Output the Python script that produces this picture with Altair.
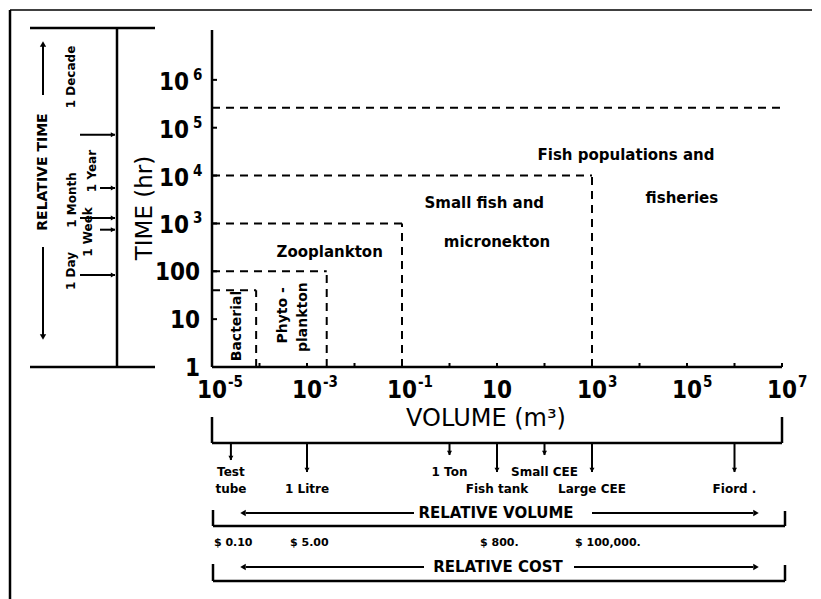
import altair as alt
import pandas as pd

# ---------------- data ----------------
x_tick_values = [1e-5, 1e-3, 1e-1, 1e1, 1e3, 1e5, 1e7]
x_tick_base = ["10", "10", "10", "10", "10", "10", "10"]
x_tick_exp = ["-5", "-3", "-1", "", "3", "5", "7"]
y_tick_values = [1, 10, 100, 1e3, 1e4, 1e5, 1e6]
y_tick_base = ["1", "10", "100", "10", "10", "10", "10"]
y_tick_exp = ["", "", "", "3", "4", "5", "6"]
x_minor_ticks = [1e-4, 1e-3, 1e-2, 1e-1, 1, 10, 100, 1e3, 1e4, 1e5, 1e6, 1e7]
y_minor_ticks = [10, 100, 1e3, 1e4, 1e5, 1e6]

region_names = ["Bacterial", "Phytoplankton", "Zooplankton",
                "Small fish and micronekton", "Fish populations and fisheries"]
region_max_volume = [8.5e-5, 2.6e-3, 1e-1, 1e3, 1e7]
region_max_time = [40, 100, 1e3, 1e4, 2.6e5]

region_label_text = ["Bacterial", "Phyto -", "plankton", "Zooplankton",
                     "Small fish and", "micronekton", "Fish populations and", "fisheries"]
region_label_volume = [3.4e-5, 3.2e-4, 8.3e-4, 3.0e-3, 5.4, 10, 5200, 7.8e4]
region_label_time = [7.2, 12, 11, 250, 2700, 400, 27000, 3450]
region_label_vertical = [True, True, True, False, False, False, False, False]

time_marker_names = ["1 Decade", "1 Year", "1 Month", "1 Week", "1 Day"]
time_marker_hr = [7.1e4, 5.5e3, 1.3e3, 7.4e2, 84]
time_marker_long = [True, False, True, False, True]

volume_marker_names = ["Test tube", "1 Litre", "1 Ton", "Fish tank", "Small CEE", "Large CEE", "Fiord ."]
volume_marker_m3 = [2.5e-5, 1e-3, 1, 10, 100, 1e3, 1e6]
volume_label_row1 = ["Test", "", "1 Ton", "", "Small CEE", "", ""]
volume_label_row2 = ["tube", "1 Litre", "", "Fish tank", "", "Large CEE", "Fiord ."]
volume_arrow_kind = ["mid", "long", "short", "long", "short", "long", "long"]

cost_labels = ["$ 0.10", "$ 5.00", "$ 800.", "$ 100,000."]
cost_volume_m3 = [2.5e-5, 1e-3, 10, 1e3]

# ---------------- layout / style ----------------
W, H = 570, 335
FONT = "DejaVu Sans"
NARROW = "'Liberation Sans Narrow', 'DejaVu Sans Condensed', 'DejaVu Sans'"
xs = alt.Scale(type="log", domain=[1e-5, 1e7], nice=False)
ys = alt.Scale(type="log", domain=[1, 1e7], nice=False)

one = pd.DataFrame({"k": [0]})


def seg(x1, y1, x2, y2, width=2.5):
    return alt.Chart(one).mark_rule(color="black", strokeWidth=width).encode(
        x=alt.value(x1), y=alt.value(y1), x2=alt.value(x2), y2=alt.value(y2))


def head(x, y, shape, size=40):
    return alt.Chart(one).mark_point(shape=shape, filled=True, size=size, color="black",
                                     opacity=1).encode(x=alt.value(x), y=alt.value(y))


def label(x, y, text, size, angle=0, weight="bold", align="center", font=FONT):
    return alt.Chart(one).mark_text(text=text, font=font, fontSize=size, fontWeight=weight,
                                    angle=angle, align=align, baseline="middle",
                                    color="black").encode(x=alt.value(x), y=alt.value(y))


dash = dict(strokeDash=[8, 6], strokeWidth=2, color="black")

box_df = pd.DataFrame({"region": region_names, "v0": [1e-5] * len(region_names),
                       "vmax": region_max_volume, "t0": [1] * len(region_names),
                       "tmax": region_max_time})

h_boxes = alt.Chart(box_df).mark_rule(**dash).encode(
    x=alt.X("v0:Q", scale=xs, axis=None), x2="vmax:Q",
    y=alt.Y("tmax:Q", scale=ys, axis=None))
v_boxes = alt.Chart(box_df).transform_filter("datum.vmax < 1e7").mark_rule(**dash).encode(
    x=alt.X("vmax:Q", scale=xs, axis=None),
    y=alt.Y("t0:Q", scale=ys, axis=None), y2="tmax:Q")

lab_df = pd.DataFrame({"text": region_label_text, "v": region_label_volume,
                       "t": region_label_time, "vert": region_label_vertical})
lab_vert = alt.Chart(lab_df).transform_filter("datum.vert").mark_text(
    font=FONT, fontSize=14, fontWeight="bold", angle=270, color="black", baseline="middle").encode(
    x=alt.X("v:Q", scale=xs, axis=None), y=alt.Y("t:Q", scale=ys, axis=None), text="text:N")
lab_hor = alt.Chart(lab_df).transform_filter("!datum.vert").mark_text(
    font=FONT, fontSize=15, fontWeight="bold", color="black", baseline="middle").encode(
    x=alt.X("v:Q", scale=xs, axis=None), y=alt.Y("t:Q", scale=ys, axis=None), text="text:N")

# axes (drawn from the tick arrays through the scales)
axis_lines = [seg(0, -2, 0, H, 2.5), seg(0, H, W, H, 2.5)]

xl_df = pd.DataFrame({"v": x_tick_values, "base": x_tick_base, "exp": x_tick_exp})
x_base = alt.Chart(xl_df).mark_text(
    font=NARROW, fontSize=24, fontWeight="bold", color="black", align="center",
    baseline="middle", dx=0).encode(
    x=alt.X("v:Q", scale=xs, axis=None), y=alt.value(H + 24), text="base:N")
x_exp = alt.Chart(xl_df).transform_filter("datum.exp != ''").mark_text(
    font=NARROW, fontSize=15, fontWeight="bold", color="black", align="left",
    baseline="middle", dx=16).encode(
    x=alt.X("v:Q", scale=xs, axis=None), y=alt.value(H + 15), text="exp:N")

yl_df = pd.DataFrame({"t": y_tick_values, "base": y_tick_base, "exp": y_tick_exp})
y_plain = alt.Chart(yl_df).transform_filter("datum.exp == ''").mark_text(
    font=NARROW, fontSize=24, fontWeight="bold", color="black", align="right",
    baseline="middle", dy=2).encode(
    y=alt.Y("t:Q", scale=ys, axis=None), x=alt.value(-12), text="base:N")
y_base = alt.Chart(yl_df).transform_filter("datum.exp != ''").mark_text(
    font=NARROW, fontSize=24, fontWeight="bold", color="black", align="right",
    baseline="middle", dy=3).encode(
    y=alt.Y("t:Q", scale=ys, axis=None), x=alt.value(-23), text="base:N")
y_exp = alt.Chart(yl_df).transform_filter("datum.exp != ''").mark_text(
    font=NARROW, fontSize=15, fontWeight="bold", color="black", align="left",
    baseline="middle", dy=-5).encode(
    y=alt.Y("t:Q", scale=ys, axis=None), x=alt.value(-19), text="exp:N")

x_ticks = alt.Chart(pd.DataFrame({"v": x_minor_ticks})).mark_rule(
    color="black", strokeWidth=2).encode(
    x=alt.X("v:Q", scale=xs, axis=None), y=alt.value(H), y2=alt.value(H - 4))
y_ticks = alt.Chart(pd.DataFrame({"t": y_minor_ticks})).mark_rule(
    color="black", strokeWidth=2).encode(
    y=alt.Y("t:Q", scale=ys, axis=None), x=alt.value(0), x2=alt.value(5))

titles = [label(-67, 176, "TIME (hr)", 23, angle=270, weight="normal"),
          label(274, 387, "VOLUME (m³)", 24, weight="normal")]

# relative time ruler
tm_df = pd.DataFrame({"name": time_marker_names, "hr": time_marker_hr, "long": time_marker_long})
tm_long = alt.Chart(tm_df).transform_filter("datum.long").mark_rule(
    color="black", strokeWidth=2).encode(
    x=alt.value(-132), x2=alt.value(-97), y=alt.Y("hr:Q", scale=ys, axis=None))
tm_short = alt.Chart(tm_df).transform_filter("!datum.long").mark_rule(
    color="black", strokeWidth=2).encode(
    x=alt.value(-112), x2=alt.value(-97), y=alt.Y("hr:Q", scale=ys, axis=None))
tm_heads = alt.Chart(tm_df).mark_point(shape="triangle-right", filled=True, size=25,
                                       color="black", opacity=1).encode(
    x=alt.value(-99), y=alt.Y("hr:Q", scale=ys, axis=None))

left_panel = [
    seg(-95, -4, -95, H), seg(-182, -4, -57, -4), seg(-182, H, -57, H),
    seg(-169, 12, -169, 63, 2), head(-169, 12, "triangle-up"),
    label(-169, 140, "RELATIVE TIME", 14, angle=270),
    seg(-169, 215, -169, 303, 2), head(-169, 305, "triangle-down"),
    label(-141, 45, "1 Decade", 12, angle=270),
    label(-120, 139, "1 Year", 12, angle=270),
    label(-140, 168, "1 Month", 12, angle=270),
    label(-124, 200, "1 Week", 12, angle=270),
    label(-141, 239, "1 Day", 12, angle=270),
    tm_long, tm_short, tm_heads,
]

# bottom: volume and cost scales
vm_df = pd.DataFrame({"name": volume_marker_names, "m3": volume_marker_m3,
                      "r1": volume_label_row1, "r2": volume_label_row2, "kind": volume_arrow_kind})
arrow_end = {"short": 423, "mid": 428, "long": 440}
vol_layers = []
for kind, yend in arrow_end.items():
    base = alt.Chart(vm_df).transform_filter(f"datum.kind == '{kind}'")
    vol_layers.append(base.mark_rule(color="black", strokeWidth=2).encode(
        x=alt.X("m3:Q", scale=xs, axis=None), y=alt.value(411), y2=alt.value(yend)))
    vol_layers.append(base.mark_point(shape="triangle-down", filled=True, size=25,
                                      color="black", opacity=1).encode(
        x=alt.X("m3:Q", scale=xs, axis=None), y=alt.value(yend - 2)))
for col, ypos in (("r1", 440), ("r2", 457)):
    vol_layers.append(alt.Chart(vm_df).transform_filter(f"datum.{col} != ''").mark_text(
        font=FONT, fontSize=12, fontWeight="bold", color="black", baseline="middle").encode(
        x=alt.X("m3:Q", scale=xs, axis=None), y=alt.value(ypos), text=f"{col}:N"))

cost_df = pd.DataFrame({"label": cost_labels, "m3": cost_volume_m3})
cost_text = alt.Chart(cost_df).mark_text(
    font=FONT, fontSize=11, fontWeight="bold", color="black", align="left", dx=-17,
    baseline="middle").encode(
    x=alt.X("m3:Q", scale=xs, axis=None), y=alt.value(511), text="label:N")

bottom = [
    seg(0, 385, 0, 411), seg(W, 385, W, 411), seg(0, 411, W, 411),
    seg(1, 478, 1, 494), seg(573, 479, 573, 494), seg(1, 494, 573, 494),
    label(284, 481, "RELATIVE VOLUME", 15),
    seg(34, 481, 202, 481, 2), head(31, 481, "triangle-left"),
    seg(380, 481, 541, 481, 2), head(544, 481, "triangle-right"),
    cost_text,
    seg(1, 532, 1, 549), seg(573, 533, 573, 549), seg(1, 549, 573, 549),
    label(286, 535, "RELATIVE COST", 15),
    seg(34, 535, 212, 535, 2), head(31, 535, "triangle-left"),
    seg(362, 535, 541, 535, 2), head(544, 535, "triangle-right"),
]

border = [seg(-202, -22, -202, 567, 2.5), seg(-202, -22, 600, -22, 1.5)]

layers = ([h_boxes, v_boxes, lab_vert, lab_hor, x_base, x_exp, y_plain, y_base, y_exp,
           x_ticks, y_ticks] + axis_lines + titles
          + left_panel + vol_layers + bottom + border)

chart = alt.layer(*layers).properties(
    width=W, height=H,
    padding={"left": 204, "top": 24, "right": 30, "bottom": 232},
    autosize=alt.AutoSizeParams(type="none"),
    background="white",
).configure_view(stroke=None)

chart.save("out.html", embed_options={"renderer": "svg", "actions": False})
